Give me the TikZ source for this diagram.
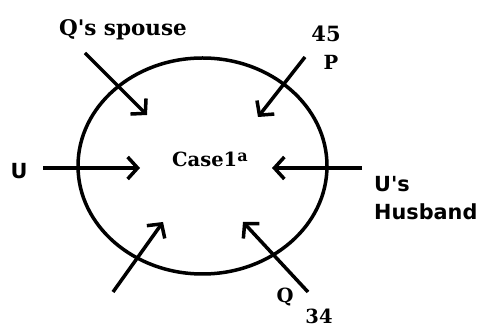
\documentclass[tikz,border=0pt]{standalone}
\usepackage{fontspec}
\newfontfamily\seriflabfont{DejaVu Serif}
\newfontfamily\sanslab{DejaVu Sans}
\usetikzlibrary{arrows.meta,shapes.geometric}
\tikzset{
  ring/.style={draw=black, line width=3.5pt},
  inarrow/.style={draw=black, line width=3.5pt, -{Straight Barb[length=10pt,width=22pt,line width=3.5pt]}},
  seriflab/.style={inner sep=0pt, anchor=base, font=\seriflabfont\fontsize{19.5}{21}\selectfont\bfseries},
  sanslabel/.style={inner sep=0pt, anchor=base, font=\sanslab\fontsize{20.8}{23}\selectfont\bfseries},
}
\begin{document}
\begin{tikzpicture}[x=1pt,y=-1pt]
\useasboundingbox (0,0) rectangle (482,328);
\node[ring, ellipse, minimum width=249pt, minimum height=216pt, inner sep=0pt] (circ) at (202.5,166) {};
\node[seriflab, anchor=base west] (case) at (172,167) {Case1\raisebox{5pt}{\fontsize{16}{16}\selectfont a}};
% arrow ends
\coordinate (t1) at (85,53);   \coordinate (h1) at (147,115);
\coordinate (t2) at (305,57);  \coordinate (h2) at (258,117);
\coordinate (t3) at (43,168);  \coordinate (h3) at (140,168);
\coordinate (t4) at (362,168); \coordinate (h4) at (272,168);
\coordinate (t5) at (113,292); \coordinate (h5) at (163,222);
\coordinate (t6) at (308,292); \coordinate (h6) at (243,222);
\foreach \i in {1,...,6} { \draw[inarrow] (t\i) -- (h\i); }
% labels
\node[seriflab, font=\seriflabfont\fontsize{21.5}{23}\selectfont\bfseries] (qs) at (123,36) {Q's spouse};
\node[seriflab, font=\seriflabfont\fontsize{21}{23}\selectfont\bfseries] (n45) at (326,42) {45};
\node[seriflab] (p) at (331,70) {P};
\node[sanslabel] (u) at (19,179) {U};
\node[sanslabel, anchor=base west] (us) at (374,192) {U's};
\node[sanslabel, anchor=base west] (hus) at (374,220) {Husband};
\node[seriflab] (q) at (285,303) {Q};
\node[seriflab] (n34) at (319,324) {34};
\end{tikzpicture}
\end{document}
